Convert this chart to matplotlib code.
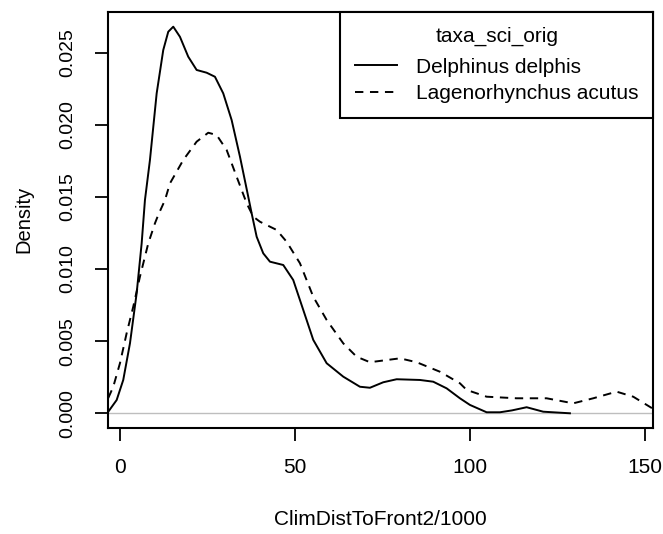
import numpy as np
import matplotlib.pyplot as plt

# density curves (x, density)
delphis_x = [-3.34, -0.94, 0.94, 2.86, 4.77, 6.2, 7.14, 8.57, 10.49, 12.37, 13.8, 15.23,
             17.14, 19.51, 21.91, 24.77, 27.14, 29.51, 31.91, 34.29, 36.66, 37.63,
             39.06, 40.94, 42.86, 46.66, 49.51, 52.37, 55.23, 59.06, 63.8, 68.57,
             71.43, 75.23, 79.06, 85.71, 89.51, 93.34, 97.14, 100.0, 104.77, 108.57,
             112.0, 116.2, 120.94, 128.57]
delphis_y = [0.00011, 0.00092, 0.00231, 0.00485, 0.00832, 0.01178, 0.01478, 0.01756,
             0.02218, 0.02518, 0.02645, 0.0268, 0.0261, 0.02472, 0.0238, 0.02361,
             0.02333, 0.02218, 0.02033, 0.01779, 0.01501, 0.01386, 0.01224, 0.01109,
             0.01051, 0.01028, 0.00924, 0.00717, 0.00509, 0.00347, 0.00254, 0.00184,
             0.00177, 0.00215, 0.00236, 0.00231, 0.00219, 0.00173, 0.00104, 0.00058,
             0.00007, 0.00007, 0.0002, 0.00042, 0.00011, 0.0]

acutus_x = [-3.34, -1.91, 0.0, 1.91, 3.8, 5.71, 8.09, 10.0, 10.94, 12.86, 14.29, 18.09,
            21.91, 25.23, 27.63, 30.49, 33.34, 36.2, 38.09, 40.0, 41.91, 44.77, 47.63,
            51.43, 55.23, 59.06, 63.8, 67.63, 71.43, 76.2, 80.0, 84.77, 91.43, 97.14,
            99.06, 104.77, 113.34, 121.91, 129.51, 135.23, 141.91, 146.66, 152.4]
acutus_y = [0.00106, 0.00184, 0.00347, 0.00555, 0.00739, 0.00947, 0.01178, 0.01317,
            0.01375, 0.01478, 0.01594, 0.01756, 0.01883, 0.01945, 0.01929, 0.01825,
            0.0164, 0.01456, 0.01363, 0.01328, 0.01305, 0.01271, 0.01189, 0.0104,
            0.00808, 0.00647, 0.00485, 0.00392, 0.00354, 0.00369, 0.00381, 0.00354,
            0.00288, 0.00208, 0.00162, 0.00115, 0.00104, 0.00104, 0.00069, 0.00104,
            0.0015, 0.00115, 0.0003]

labels = ['Delphinus delphis', 'Lagenorhynchus acutus']
xticks = [0, 50, 100, 150]
yticks = [0.000, 0.005, 0.010, 0.015, 0.020, 0.025]

plt.rcParams['font.family'] = ['Liberation Sans', 'DejaVu Sans']
plt.rcParams['font.size'] = 15

fig = plt.figure(figsize=(6.63, 5.34), dpi=100)
ax = fig.add_axes([0.1633, 0.1985, 0.8221, 0.7796])

ax.axhline(0, color='#bebebe', lw=1, zorder=1)
ax.plot(delphis_x, delphis_y, color='black', lw=1.4, label=labels[0])
ax.plot(acutus_x, acutus_y, color='black', lw=1.4, dashes=(4.3, 3.4), label=labels[1])

ax.set_xlim(-3.34, 152.4)
ax.set_ylim(-0.00102, 0.02784)
ax.set_xticks(xticks)
ax.set_xticklabels([str(t) for t in xticks])
ax.set_yticks(yticks)
ax.set_yticklabels(['%.3f' % t for t in yticks], rotation=90, va='center', fontsize=14)
ax.tick_params(length=9.5, width=1.3, pad=12, color='black')
ax.tick_params(axis='y', pad=13.5)
for s in ax.spines.values():
    s.set_linewidth(1.5)

ax.set_xlabel('ClimDistToFront2/1000', labelpad=24)
ax.set_ylabel('Density', labelpad=19, fontsize=14.5)

leg = ax.legend(title='taxa_sci_orig', loc='upper right', borderaxespad=0,
                fancybox=False, edgecolor='black', framealpha=1,
                handlelength=2.0, handletextpad=0.9, labelspacing=0.35,
                borderpad=0.72)
leg.get_frame().set_linewidth(1.5)
leg._legend_box.sep = 8.5  # a bit more room under the title

fig.savefig('out.png', dpi=100)
